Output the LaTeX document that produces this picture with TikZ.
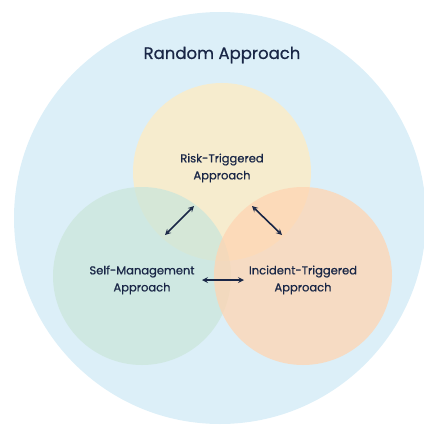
\documentclass[tikz,border=0pt]{standalone}
\usepackage{fontspec}
\setmainfont{Poppins}
\newfontfamily\labelfont{Poppins}[FakeBold=0.6]
\usepackage{xcolor}
\usepackage{tikz}
\usetikzlibrary{arrows,positioning}

\definecolor{randomblue}{RGB}{220,239,248}
\definecolor{riskyellow}{RGB}{255,236,193}
\definecolor{selfgreen}{RGB}{203,230,219}
\definecolor{incidentorange}{RGB}{255,213,178}
\definecolor{navy}{RGB}{25,38,70}

\begin{document}
\begin{tikzpicture}[
    x=1pt, y=-1pt,
    outer/.style={circle, fill=randomblue, minimum size=412pt, inner sep=0pt},
    approach/.style={circle, fill opacity=0.75, minimum size=178pt, inner sep=0pt},
    label/.style={text=navy, align=center, font=\labelfont\fontsize{11.5}{17}\selectfont},
    title/.style={text=navy, font=\labelfont\fontsize{16.5}{19}\selectfont},
    arrow/.style={<->, >=stealth, draw=navy, line width=1.6pt}
]
\useasboundingbox (0,0) rectangle (423,425);

% Outer approach
\node[outer] (random) at (220,218) {};
\node[title] (random-label) at (222,55) {Random Approach};

% Inner approaches
\node[approach, fill=riskyellow] (risk) at (222,172) {};
\node[approach, fill=selfgreen] (self) at (142,276) {};
\node[approach, fill=incidentorange] (incident) at (303,276) {};

% Labels
\node[label] (risk-label) at (222,168) {Risk-Triggered\\Approach};
\node[label] (self-label) at (142,280) {Self-Management\\Approach};
\node[label] (incident-label) at (303,280) {Incident-Triggered\\Approach};

% Arrow ends
\coordinate (rs-top) at (194,206);
\coordinate (rs-bot) at (165,235);
\coordinate (ri-top) at (252,206);
\coordinate (ri-bot) at (282,235);
\coordinate (si-left) at (202,280);
\coordinate (si-right) at (244,280);

% Arrows
\draw[arrow] (rs-top) -- (rs-bot);
\draw[arrow] (ri-top) -- (ri-bot);
\draw[arrow] (si-left) -- (si-right);

\end{tikzpicture}
\end{document}
